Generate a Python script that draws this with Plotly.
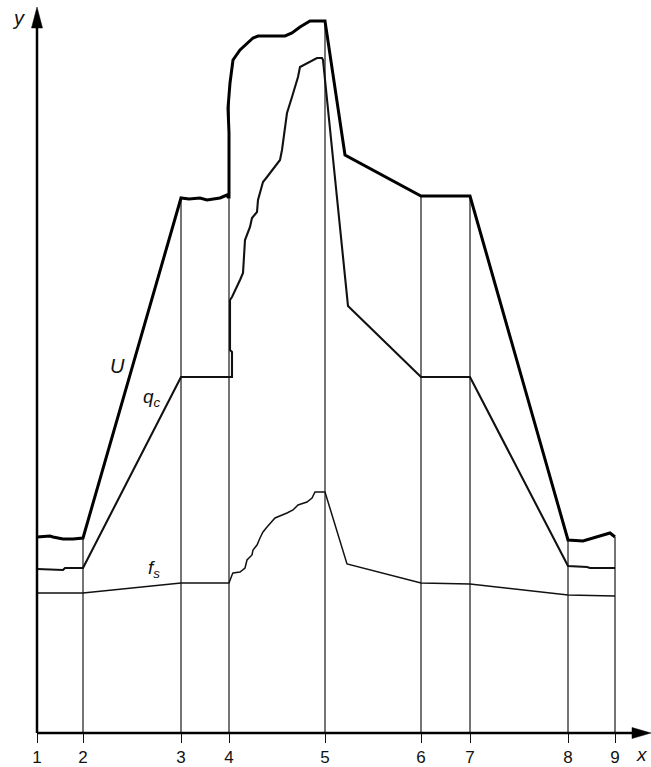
import numpy as np
import plotly.graph_objects as go

# Station positions along the profile (1..9)
stations = [0, 46, 144, 192, 288, 384, 433, 531, 578]
station_labels = ["1", "2", "3", "4", "5", "6", "7", "8", "9"]

# U curve (thick)
u_x = [0, 13, 16, 26, 36, 46, 144, 152, 163, 170, 183, 190, 191, 192, 192, 191, 193, 195,
       196, 203, 216, 221, 248, 255, 263, 273, 288, 308, 384, 433, 531, 546, 556, 566, 573, 578]
u_y = [196, 197, 196, 194, 194, 195, 535, 534, 535, 533, 535, 538, 536, 536, 600, 625, 650, 666,
       673, 683, 695, 697, 697, 700, 706, 712, 712, 578, 537, 537, 193, 192, 195, 198, 200, 196]

# q_c curve (medium)
qc_x = [0, 26, 28, 46, 144, 195, 195, 193, 193, 195, 203, 206, 208, 213, 215, 220, 221, 225,
        226, 230, 238, 243, 245, 250, 255, 261, 263, 270, 280, 285, 286, 311, 384, 433, 531,
        550, 553, 578]
qc_y = [164, 163, 165, 165, 356, 356, 381, 383, 433, 436, 453, 460, 493, 506, 515, 521, 533, 550,
        551, 556, 566, 573, 583, 620, 636, 656, 666, 670, 675, 675, 673, 427, 356, 356, 167,
        166, 165, 165]

# f_s curve (thin)
fs_x = [0, 46, 144, 192, 195, 196, 203, 208, 210, 215, 216, 220, 223, 226, 230, 238, 250, 256,
        261, 270, 275, 278, 288, 310, 384, 433, 531, 578]
fs_y = [140, 140, 150, 150, 158, 160, 161, 165, 173, 178, 183, 188, 195, 201, 206, 215, 220, 223,
        228, 231, 235, 241, 241, 169, 150, 149, 138, 137]


def top_at(s, xs, ys):
    best = None
    for i in range(len(xs) - 1):
        x0, x1 = xs[i], xs[i + 1]
        if min(x0, x1) <= s <= max(x0, x1):
            if x1 == x0:
                y = max(ys[i], ys[i + 1])
            else:
                y = ys[i] + (ys[i + 1] - ys[i]) * (s - x0) / (x1 - x0)
            best = y if best is None else max(best, y)
    return best


vx, vy = [], []
for s in stations[1:]:
    vx += [s, s, None]
    vy += [0, top_at(s, u_x, u_y), None]

fig = go.Figure()
fig.add_trace(go.Scatter(x=vx, y=vy, mode="lines", line=dict(color="#2a2a2a", width=1.3),
                         hoverinfo="skip", showlegend=False))
fig.add_trace(go.Scatter(x=fs_x, y=fs_y, mode="lines", line=dict(color="#111", width=1.5),
                         showlegend=False, name="f_s"))
fig.add_trace(go.Scatter(x=qc_x, y=qc_y, mode="lines", line=dict(color="#111", width=2.1),
                         showlegend=False, name="q_c"))
fig.add_trace(go.Scatter(x=u_x, y=u_y, mode="lines", line=dict(color="#000", width=3),
                         showlegend=False, name="U"))

W, H = 651, 767
ml, mb = 37, 34
pw, ph = W - ml, H - mb  # 1 data unit == 1 px


def px_(x):   # data x -> paper x
    return x / pw


def py_(y):   # data y -> paper y
    return y / ph


shapes = [
    dict(type="line", xref="paper", yref="paper", x0=px_(0), y0=py_(0), x1=px_(pw - 16),
         y1=py_(0), line=dict(color="black", width=2.5)),
    dict(type="line", xref="paper", yref="paper", x0=px_(0), y0=py_(0), x1=px_(0), y1=py_(708),
         line=dict(color="black", width=2.5)),
    dict(type="path", xref="paper", yref="paper",
         path=(f"M {px_(pw-19)},{py_(-5.5)} L {px_(pw-19)},{py_(5.5)} "
               f"L {px_(pw)},{py_(0)} Z"),
         fillcolor="black", line=dict(color="black", width=0.5)),
    dict(type="path", xref="paper", yref="paper",
         path=(f"M {px_(-5.5)},{py_(705)} L {px_(5.5)},{py_(705)} "
               f"L {px_(0)},{py_(726)} Z"),
         fillcolor="black", line=dict(color="black", width=0.5)),
]

font = "Liberation Sans, Arial, sans-serif"
ann = [
    dict(x=80, y=367, xref="x", yref="y", text="<i>U</i>", showarrow=False,
         font=dict(size=20, family=font, color="#111")),
    dict(x=115, y=335, xref="x", yref="y", text="<i>q</i><sub><i>c</i></sub>", showarrow=False,
         font=dict(size=19, family=font, color="#111")),
    dict(x=117, y=164, xref="x", yref="y", text="<i>f</i><sub><i>s</i></sub>", showarrow=False,
         font=dict(size=19, family=font, color="#111")),
    dict(x=px_(18 - ml), y=py_(733 - 18), xref="paper", yref="paper", text="<i>y</i>",
         xanchor="center", yanchor="middle",
         showarrow=False, font=dict(size=20, family=font, color="#111")),
    dict(x=px_(642 - ml), y=py_(733 - 755), xref="paper", yref="paper", text="<i>x</i>",
         xanchor="center", yanchor="middle",
         showarrow=False, font=dict(size=19, family=font, color="#111")),
]

fig.update_layout(
    width=W, height=H,
    margin=dict(l=ml, r=0, t=0, b=mb, autoexpand=False),
    paper_bgcolor="white", plot_bgcolor="white",
    shapes=shapes, annotations=ann,
    xaxis=dict(range=[0, pw], tickmode="array", tickvals=stations, ticktext=station_labels,
               ticks="outside", ticklen=9, tickwidth=1.3, tickcolor="#111",
               showgrid=False, zeroline=False, showline=False, automargin=False,
               tickfont=dict(size=17, family=font, color="#111")),
    yaxis=dict(range=[0, ph], visible=False, showgrid=False, zeroline=False,
               automargin=False),
)

fig.write_html("out.html", config={"displayModeBar": False},
               post_script="document.body.style.margin='0';document.body.style.overflow='hidden';")
